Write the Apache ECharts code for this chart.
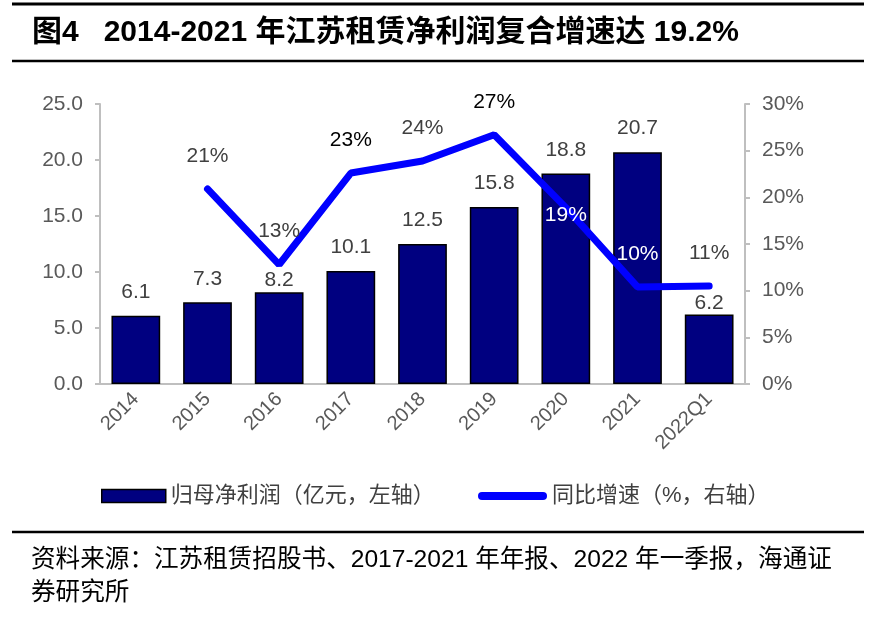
<!DOCTYPE html>
<html><head><meta charset="utf-8">
<script src="https://cdn.jsdelivr.net/npm/echarts@6/dist/echarts.min.js"></script>
<style>html,body{margin:0;padding:0;background:#fff}#c{width:876px;height:623px}</style>
</head><body><div id="c"></div>
<script>
const categories = ['2014','2015','2016','2017','2018','2019','2020','2021','2022Q1'];
const profitValues = [6.1, 7.3, 8.2, 10.1, 12.5, 15.8, 18.8, 20.7, 6.2];
const growthValues = [null, 20.9, 12.8, 22.6, 23.9, 26.7, 18.9, 10.4, 10.5];
const growthLabels = ['', '21%', '13%', '23%', '24%', '27%', '19%', '10%', '11%'];
const leftTicks = [0, 5, 10, 15, 20, 25];
const rightTicks = [0, 5, 10, 15, 20, 25, 30];
const barName = '归母净利润（亿元，左轴）';
const lineName = '同比增速（%，右轴）';
const titleText = '图4   2014-2021 年江苏租赁净利润复合增速达 19.2%';
const sourceText = '资料来源：江苏租赁招股书、2017-2021 年年报、2022 年一季报，海通证\n券研究所';

const NUM = 'Liberation Sans, Arial, sans-serif';
const CJK = 'Liberation Sans, Noto Sans CJK SC, sans-serif';

const closeBarLabels = {2: 1, 8: 1};
const barData = profitValues.map((v, i) => ({
  value: v,
  label: { distance: closeBarLabels[i] !== undefined ? closeBarLabels[i] : 13 }
}));
const growthColors = ['#404040','#404040','#404040','#000000','#404040','#000000','#ffffff','#ffffff','#404040'];
const lineData = growthValues.map((v, i) => {
  const item = { value: v === null ? '-' : v, label: { color: growthColors[i] } };
  if (i === 6) { item.label.position = 'inside'; item.label.offset = [0, 8]; }
  return item;
});

const chart = echarts.init(document.getElementById('c'), null, {renderer: 'canvas'});
chart.setOption({
  animation: false,
  backgroundColor: '#fff',
  grid: { left: 100, right: 131, top: 104, bottom: 239, containLabel: false },
  legend: [
    { left: 96, top: 480, itemWidth: 64, itemHeight: 13, itemGap: 10,
      data: [{ name: barName, icon: 'rect', itemStyle: { color: '#000080', borderColor: '#000', borderWidth: 1.5 } }],
      textStyle: { fontSize: 22, color: '#404040', fontFamily: CJK } },
    { left: 473, top: 480, itemWidth: 69, itemHeight: 8,
      data: [{ name: lineName, icon: 'path://M4,0 L65,0 A4,4 0 0 1 65,8 L4,8 A4,4 0 0 1 4,0 Z', itemStyle: { color: '#0000FF' } }],
      textStyle: { fontSize: 22, color: '#404040', fontFamily: CJK } }
  ],
  xAxis: {
    type: 'category', data: categories,
    axisLine: { lineStyle: { color: '#BFBFBF', width: 2 } },
    axisTick: { show: false },
    axisLabel: { rotate: 45, fontSize: 20, color: '#595959', fontFamily: NUM, margin: 12, interval: 0 }
  },
  yAxis: [
    { type: 'value', min: leftTicks[0], max: leftTicks[leftTicks.length-1], interval: 5,
      axisLine: { show: true, lineStyle: { color: '#BFBFBF', width: 2 } },
      axisTick: { show: true, length: 5, lineStyle: { color: '#BFBFBF', width: 2 } },
      splitLine: { show: false },
      axisLabel: { fontSize: 21, color: '#595959', fontFamily: NUM, margin: 17, formatter: v => v.toFixed(1) } },
    { type: 'value', min: rightTicks[0], max: rightTicks[rightTicks.length-1], interval: 5, position: 'right',
      axisLine: { show: true, lineStyle: { color: '#BFBFBF', width: 2 } },
      axisTick: { show: true, length: 5, lineStyle: { color: '#BFBFBF', width: 2 } },
      splitLine: { show: false },
      axisLabel: { fontSize: 21, color: '#595959', fontFamily: NUM, margin: 17, formatter: '{value}%' } }
  ],
  series: [
    { name: barName, type: 'bar', data: barData, barWidth: '68%', yAxisIndex: 0,
      itemStyle: { color: '#000080', borderColor: '#000000', borderWidth: 1.5 },
      label: { show: true, position: 'top', fontSize: 21, color: '#404040', fontFamily: NUM,
        formatter: p => p.value.toFixed(1) } },
    { name: lineName, type: 'line', data: lineData, yAxisIndex: 1,
      symbol: 'circle', symbolSize: 1, showSymbol: true, connectNulls: false,
      lineStyle: { color: '#0000FF', width: 7, cap: 'round' },
      itemStyle: { color: '#0000FF' },
      label: { show: true, position: 'top', distance: 22, fontSize: 21, fontFamily: NUM,
        formatter: p => growthLabels[p.dataIndex] } }
  ],
  graphic: [
    { type: 'line', shape: { x1: 12, y1: 4, x2: 864, y2: 4 }, style: { stroke: '#000', lineWidth: 3 } },
    { type: 'line', shape: { x1: 12, y1: 61, x2: 864, y2: 61 }, style: { stroke: '#000', lineWidth: 2.5 } },
    { type: 'text', left: 32, top: 18, style: { text: titleText, font: 'bold 30px ' + CJK, fill: '#000' } },
    { type: 'line', shape: { x1: 12, y1: 532, x2: 864, y2: 532 }, style: { stroke: '#000', lineWidth: 2.5 } },
    { type: 'text', left: 31, top: 544, style: { text: sourceText, font: '24.6px ' + CJK, fill: '#000', lineHeight: 33 } }
  ]
});
</script></body></html>
